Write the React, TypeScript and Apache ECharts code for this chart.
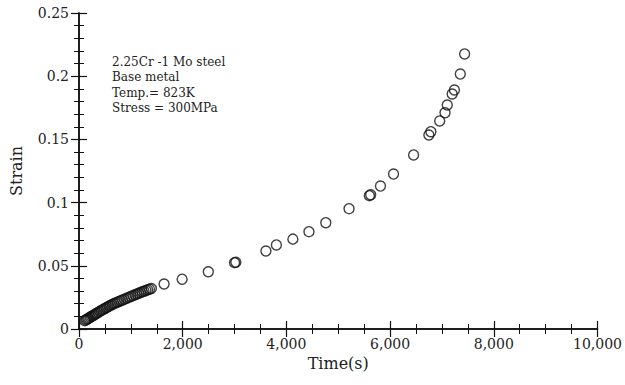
import React, { useEffect, useRef } from "react";
import * as echarts from "echarts";

// Creep test: 2.25Cr-1Mo steel base metal, 823 K, 300 MPa
const timeSec: number[] = [
  110, 130, 150, 170, 190, 215, 240, 265, 290, 315, 340, 370, 400, 430, 460,
  490, 520, 550, 580, 610, 640, 670, 700, 735, 770, 805, 840, 880, 920, 960,
  1000, 1040, 1080, 1115, 1150, 1185, 1220, 1255, 1290, 1325, 1360, 1395,
  1641, 1989, 2494, 3000, 3025, 3605, 3807, 4125, 4435, 4760, 5208, 5600,
  5625, 5814, 6066, 6453, 6748, 6786, 6956, 7059, 7102, 7197, 7240, 7354,
  7437,
];
const strain: number[] = [
  0.0066, 0.0071, 0.0076, 0.0081, 0.0086, 0.0093, 0.0099, 0.0105, 0.0111,
  0.0118, 0.0124, 0.0131, 0.0139, 0.0146, 0.0153, 0.016, 0.0167, 0.0174,
  0.0181, 0.0187, 0.0193, 0.0199, 0.0205, 0.0211, 0.0217, 0.0223, 0.0229,
  0.0236, 0.0243, 0.025, 0.0257, 0.0264, 0.027, 0.0276, 0.0282, 0.0288,
  0.0294, 0.0299, 0.0305, 0.031, 0.0315, 0.032,
  0.0356, 0.0394, 0.0453, 0.0525, 0.0528, 0.0617, 0.0665, 0.0711, 0.077,
  0.0841, 0.0952, 0.1055, 0.1062, 0.1131, 0.1226, 0.1377, 0.1535, 0.1561,
  0.1646, 0.1711, 0.1772, 0.1859, 0.1891, 0.2017, 0.2176,
];
const noteLines: string[] = [
  "2.25Cr -1 Mo steel",
  "Base metal",
  "Temp.= 823K",
  "Stress = 300MPa",
];

const FONT = "'DejaVu Serif', 'Liberation Serif', serif";
const INK = "#111";

export default function App() {
  const ref = useRef<HTMLDivElement>(null);

  useEffect(() => {
    document.body.style.margin = "0";
    if (!ref.current) return;
    const chart = echarts.init(ref.current, undefined, { renderer: "svg" });

    const frameLine = { show: true, lineStyle: { color: INK, width: 1.5 } };
    const majorTick = { show: true, inside: true, length: 8, lineStyle: { color: INK, width: 1.2 } };
    const minorTick = (n: number) => ({
      show: true,
      splitNumber: n,
      length: 5,
      lineStyle: { color: INK, width: 1 },
    });

    chart.setOption({
      animation: false,
      backgroundColor: "#fff",
      grid: { left: 75, right: 23, top: 13, bottom: 56, containLabel: false },
      xAxis: [
        {
          type: "value",
          min: 0,
          max: 10000,
          interval: 2000,
          position: "bottom",
          axisLine: frameLine,
          axisTick: majorTick,
          minorTick: minorTick(4),
          splitLine: { show: false },
          axisLabel: {
            color: "#222",
            fontFamily: FONT,
            fontSize: 14,
            margin: 8,
            formatter: (v: number) => v.toLocaleString("en-US"),
          },
          name: "Time(s)",
          nameLocation: "middle",
          nameGap: 25,
          nameTextStyle: { color: "#222", fontFamily: FONT, fontSize: 16 },
        },
        {
          type: "value",
          min: 0,
          max: 10000,
          interval: 2000,
          position: "top",
          axisLine: frameLine,
          axisTick: majorTick,
          minorTick: minorTick(4),
          splitLine: { show: false },
          axisLabel: { show: false },
        },
      ],
      yAxis: [
        {
          type: "value",
          min: 0,
          max: 0.25,
          interval: 0.05,
          position: "left",
          axisLine: frameLine,
          axisTick: majorTick,
          minorTick: minorTick(5),
          splitLine: { show: false },
          axisLabel: {
            color: "#222",
            fontFamily: FONT,
            fontSize: 14,
            margin: 10,
            formatter: (v: number) => String(Number(v.toFixed(2))),
          },
          name: "Strain",
          nameLocation: "middle",
          nameGap: 55,
          nameTextStyle: { color: "#222", fontFamily: FONT, fontSize: 16 },
        },
        {
          type: "value",
          min: 0,
          max: 0.25,
          interval: 0.05,
          position: "right",
          axisLine: frameLine,
          axisTick: majorTick,
          minorTick: minorTick(5),
          splitLine: { show: false },
          axisLabel: { show: false },
        },
      ],
      series: [
        {
          type: "scatter",
          xAxisIndex: 0,
          yAxisIndex: 0,
          symbol: "circle",
          symbolSize: 10,
          itemStyle: { color: "rgba(0,0,0,0)", borderColor: INK, borderWidth: 1.4 },
          data: timeSec.map((t, i) => [t, strain[i]]),
        },
      ],
      graphic: [
        {
          type: "text",
          left: 112,
          top: 54,
          style: {
            text: noteLines.join("\n"),
            fontFamily: FONT,
            fontSize: 12,
            lineHeight: 15.5,
            fill: "#222",
          },
        },
      ],
    });

    return () => chart.dispose();
  }, []);

  return <div ref={ref} style={{ width: 625, height: 385 }} />;
}
